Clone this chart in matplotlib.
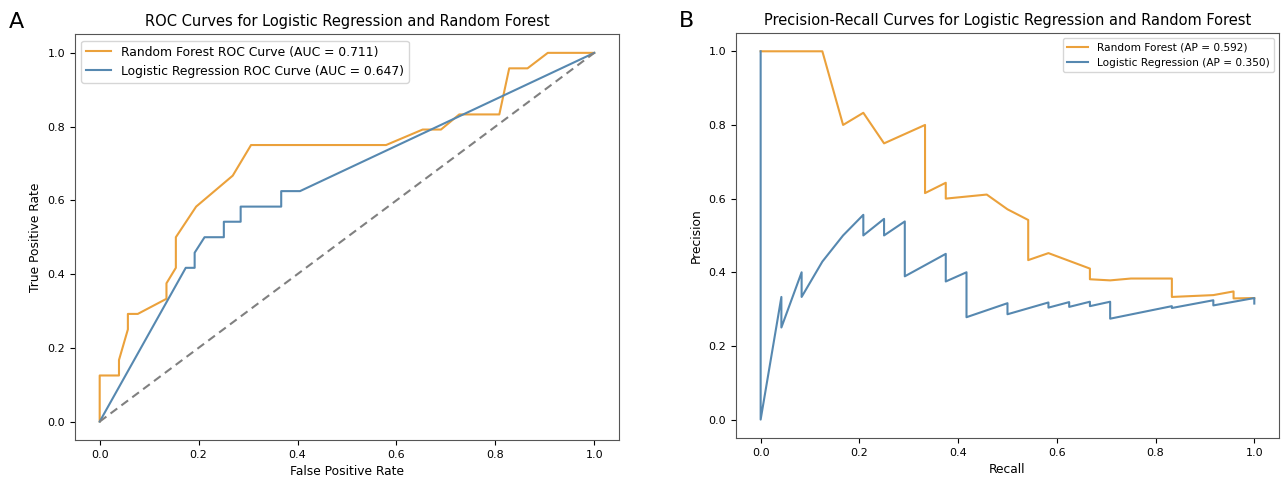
"""ROC and precision-recall curves, logistic regression vs random forest."""
import matplotlib
matplotlib.use("Agg")
import matplotlib.pyplot as plt

RF_COLOR = "#EBA13B"
LR_COLOR = "#5688B0"

# ROC curve points
rf_fpr = [0, 0, 0.039, 0.039, 0.057, 0.057, 0.077, 0.135, 0.135, 0.154, 0.154,
          0.195, 0.269, 0.306, 0.579, 0.653, 0.690, 0.727, 0.808, 0.828, 0.865, 0.906, 1.0]
rf_tpr = [0, 0.125, 0.125, 0.167, 0.25, 0.292, 0.292, 0.333, 0.375, 0.417, 0.5,
          0.583, 0.667, 0.75, 0.75, 0.792, 0.792, 0.833, 0.833, 0.958, 0.958, 1.0, 1.0]
lr_fpr = [0, 0.174, 0.192, 0.192, 0.212, 0.251, 0.251, 0.285, 0.285, 0.367, 0.367, 0.405, 1.0]
lr_tpr = [0, 0.417, 0.417, 0.458, 0.5, 0.5, 0.542, 0.542, 0.583, 0.583, 0.625, 0.625, 1.0]
rf_auc = 0.711
lr_auc = 0.647

# precision-recall points
rf_recall = [0, 0.125, 0.167, 0.208, 0.25, 0.333, 0.333, 0.375, 0.375, 0.458, 0.5, 0.542,
             0.542, 0.583, 0.667, 0.667, 0.708, 0.75, 0.833, 0.833, 0.917, 0.958, 0.958, 1.0]
rf_precision = [1.0, 1.0, 0.8, 0.833, 0.75, 0.8, 0.615, 0.643, 0.6, 0.611, 0.571, 0.542,
                0.433, 0.452, 0.41, 0.381, 0.378, 0.383, 0.383, 0.333, 0.338, 0.348, 0.329, 0.33]
lr_recall = [0, 0, 0.042, 0.042, 0.083, 0.083, 0.125, 0.167, 0.208, 0.208, 0.25, 0.25,
             0.292, 0.292, 0.375, 0.375, 0.417, 0.417, 0.5, 0.5, 0.583, 0.583, 0.625, 0.625,
             0.667, 0.667, 0.708, 0.708, 0.833, 0.833, 0.917, 0.917, 1.0, 1.0]
lr_precision = [1.0, 0.0, 0.333, 0.25, 0.4, 0.333, 0.429, 0.5, 0.556, 0.5, 0.545, 0.5,
                0.538, 0.389, 0.45, 0.375, 0.4, 0.278, 0.316, 0.286, 0.318, 0.304, 0.319, 0.306,
                0.32, 0.308, 0.32, 0.274, 0.308, 0.303, 0.324, 0.31, 0.33, 0.315]
rf_ap = 0.592
lr_ap = 0.350

fig = plt.figure(figsize=(12.88, 4.8), dpi=100)
ax1 = fig.add_axes([0.0582, 0.0833, 0.4224, 0.845])
ax2 = fig.add_axes([0.5714, 0.0875, 0.4216, 0.844])

# A: ROC
ax1.plot(rf_fpr, rf_tpr, color=RF_COLOR, lw=1.5, label=f"Random Forest ROC Curve (AUC = {rf_auc:.3f})")
ax1.plot(lr_fpr, lr_tpr, color=LR_COLOR, lw=1.5, label=f"Logistic Regression ROC Curve (AUC = {lr_auc:.3f})")
ax1.plot([0, 1], [0, 1], color="gray", lw=1.5, linestyle=(0, (4, 2.5)))
ax1.set_title("ROC Curves for Logistic Regression and Random Forest", fontsize=10.5)
ax1.set_xlabel("False Positive Rate", fontsize=8.8)
ax1.set_ylabel("True Positive Rate", fontsize=8.8)
ax1.tick_params(labelsize=8)
ax1.legend(loc="upper left", fontsize=8.9)

# B: precision-recall
ax2.plot(rf_recall, rf_precision, color=RF_COLOR, lw=1.5, label=f"Random Forest (AP = {rf_ap:.3f})")
ax2.plot(lr_recall, lr_precision, color=LR_COLOR, lw=1.5, label=f"Logistic Regression (AP = {lr_ap:.3f})")
ax2.set_title("Precision-Recall Curves for Logistic Regression and Random Forest", fontsize=10.5)
ax2.set_xlabel("Recall", fontsize=8.8)
ax2.set_ylabel("Precision", fontsize=8.8)
ax2.tick_params(labelsize=8)
ax2.legend(loc="upper right", fontsize=7.6)

for ax in (ax1, ax2):
    for s in ax.spines.values():
        s.set_color("#555555")

fig.text(0.013, 0.955, "A", fontsize=16, ha="center", va="center")
fig.text(0.533, 0.957, "B", fontsize=16, ha="center", va="center")

fig.savefig("out.png", dpi=100)
